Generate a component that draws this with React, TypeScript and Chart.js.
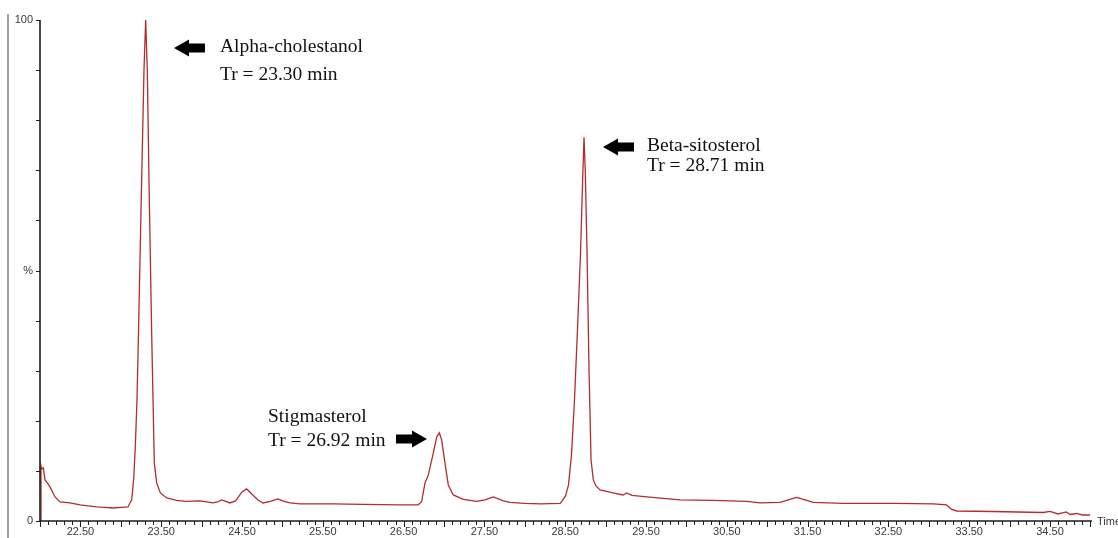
import React, { useEffect, useRef } from 'react';
import { Chart, registerables } from 'chart.js';

Chart.register(...registerables);

// Retention time (min) of each sampled point of the chromatogram trace
const timeMin = [
  22.005, 22.012, 22.02, 22.041, 22.062, 22.09, 22.124, 22.155, 22.186, 22.248,
  22.371, 22.495, 22.6, 22.702, 22.8, 22.903, 23.0, 23.089, 23.12, 23.135,
  23.16, 23.18, 23.2, 23.217, 23.25, 23.287, 23.308, 23.328, 23.353, 23.382,
  23.415, 23.444, 23.49, 23.568, 23.692, 23.8, 23.98, 24.141, 24.2, 24.249,
  24.3, 24.351, 24.42, 24.5, 24.558, 24.62, 24.698, 24.76, 24.85, 24.946,
  25.02, 25.094, 25.218, 25.626, 26.0, 26.455, 26.68,
  26.724, 26.765, 26.806, 26.868, 26.91, 26.942, 26.971, 27.012, 27.053, 27.115,
  27.239, 27.405, 27.507, 27.61, 27.734, 27.817, 28.0, 28.2, 28.436,
  28.454, 28.504, 28.541, 28.578, 28.615, 28.652, 28.689, 28.718, 28.733, 28.748,
  28.77, 28.795, 28.82, 28.848, 28.881, 28.931, 29.092, 29.215, 29.261, 29.327,
  29.509, 29.921, 30.329, 30.746, 30.911, 31.158, 31.282, 31.365, 31.447, 31.571,
  31.942, 32.561, 33.056, 33.221, 33.283, 33.345, 33.798, 34.1, 34.417, 34.5,
  34.6, 34.7, 34.75, 34.83, 34.9, 34.995,
];

// Relative intensity (%) at each retention time
const intensityPct = [
  0, 11.0, 10.4, 10.6, 8.2, 7.6, 6.8, 5.8, 4.8, 3.8,
  3.6, 3.2, 3.0, 2.8, 2.7, 2.6, 2.7, 2.8, 3.8, 4.2,
  8.5, 15, 24, 36, 62, 90, 100, 90, 64, 37.5,
  11.5, 7.6, 5.6, 4.6, 4.1, 3.9, 4.0, 3.6, 3.8, 4.2,
  3.9, 3.6, 4.0, 5.8, 6.4, 5.4, 4.2, 3.6, 3.9, 4.4,
  3.9, 3.6, 3.4, 3.4, 3.3, 3.2, 3.2,
  3.9, 7.6, 9.2, 13.6, 16.8, 17.6, 16.2, 11.6, 7.2, 5.2,
  4.3, 3.9, 4.2, 4.8, 4.0, 3.7, 3.5, 3.4, 3.5,
  3.8, 5.0, 7.2, 13.2, 24.2, 38.1, 53.1, 69.1, 76.6, 70.1,
  54.1, 30.1, 12.2, 8.2, 7.0, 6.2, 5.6, 5.2, 5.6, 5.1,
  4.8, 4.2, 4.1, 3.9, 3.6, 3.7, 4.3, 4.7, 4.3, 3.7,
  3.5, 3.5, 3.4, 3.2, 2.3, 2.0, 1.9, 1.8, 1.7, 1.9,
  1.4, 1.8, 1.3, 1.5, 1.2, 1.2,
];

const xTickLabels = ['22.50', '23.50', '24.50', '25.50', '26.50', '27.50', '28.50', '29.50', '30.50', '31.50', '32.50', '33.50', '34.50'];
const yTickValues = [0, 50, 100];
const yTickLabels = ['0', '%', '100'];
const xAxisTitle = 'Time';

const peakNames = ['Alpha-cholestanol', 'Stigmasterol', 'Beta-sitosterol'];
const peakRetention = ['Tr = 23.30 min', 'Tr = 26.92 min', 'Tr = 28.71 min'];

// Layout of the annotation callouts (pixels)
const calloutLayout = [
  { arrowDir: 'left', tipX: 174, tipY: 48, textX: 220, base1: 52, base2: 80 },
  { arrowDir: 'right', tipX: 427, tipY: 439, textX: 268, base1: 422, base2: 446 },
  { arrowDir: 'left', tipX: 603, tipY: 147, textX: 647, base1: 151, base2: 171 },
];

const X_MIN = 22.0;
const X_MAX = 35.02;

function drawArrow(ctx: CanvasRenderingContext2D, tipX: number, tipY: number, dir: string) {
  const s = dir === 'left' ? 1 : -1;
  const len = 31, headLen = 15, headHalf = 8.5, shaftHalf = 4.5;
  ctx.beginPath();
  ctx.moveTo(tipX, tipY);
  ctx.lineTo(tipX + s * headLen, tipY - headHalf);
  ctx.lineTo(tipX + s * headLen, tipY - shaftHalf);
  ctx.lineTo(tipX + s * len, tipY - shaftHalf);
  ctx.lineTo(tipX + s * len, tipY + shaftHalf);
  ctx.lineTo(tipX + s * headLen, tipY + shaftHalf);
  ctx.lineTo(tipX + s * headLen, tipY + headHalf);
  ctx.closePath();
  ctx.fill();
}

const decorPlugin = {
  id: 'chromDecor',
  afterDraw(chart: any) {
    const ctx: CanvasRenderingContext2D = chart.ctx;
    const xs = chart.scales.x;
    const ys = chart.scales.y;
    const area = chart.chartArea;
    ctx.save();

    // left frame line
    ctx.strokeStyle = '#a0a0a0';
    ctx.lineWidth = 2;
    ctx.beginPath();
    ctx.moveTo(8, 14);
    ctx.lineTo(8, 538);
    ctx.stroke();

    // axes
    ctx.strokeStyle = '#1e1e1e';
    ctx.lineWidth = 1.6;
    ctx.beginPath();
    ctx.moveTo(area.left, ys.getPixelForValue(100));
    ctx.lineTo(area.left, area.bottom);
    ctx.lineTo(area.right, area.bottom);
    ctx.stroke();

    // y ticks every 10 %
    ctx.lineWidth = 1;
    ctx.beginPath();
    for (let v = 0; v <= 100; v += 10) {
      const py = Math.round(ys.getPixelForValue(v)) + 0.5;
      ctx.moveTo(area.left - 4, py);
      ctx.lineTo(area.left, py);
    }
    ctx.stroke();

    // x ticks every 0.1 min, longer every 0.5
    ctx.beginPath();
    for (let i = 0; i <= 130; i++) {
      const t = X_MIN + i * 0.1;
      if (t > X_MAX + 1e-6) break;
      const px = Math.round(xs.getPixelForValue(t)) + 0.5;
      const major = i % 5 === 0;
      ctx.moveTo(px, area.bottom);
      ctx.lineTo(px, area.bottom + (major ? 6 : 4));
    }
    ctx.stroke();

    // tick labels
    ctx.fillStyle = '#3a3a3a';
    ctx.font = '11px "Liberation Sans", Arial, sans-serif';
    ctx.textAlign = 'center';
    ctx.textBaseline = 'middle';
    xTickLabels.forEach((lab) => {
      const px = xs.getPixelForValue(parseFloat(lab));
      ctx.fillText(lab, px, area.bottom + 11);
    });
    ctx.textAlign = 'right';
    yTickValues.forEach((v, i) => {
      ctx.fillText(yTickLabels[i], area.left - 7, ys.getPixelForValue(v));
    });
    ctx.textAlign = 'left';
    ctx.fillText(xAxisTitle, area.right + 5, area.bottom + 1);

    // callouts
    ctx.font = '19.5px "Liberation Serif", "Times New Roman", serif';
    ctx.textBaseline = 'alphabetic';
    calloutLayout.forEach((c, i) => {
      ctx.fillStyle = '#000';
      drawArrow(ctx, c.tipX, c.tipY, c.arrowDir);
      ctx.fillStyle = '#111';
      ctx.fillText(peakNames[i], c.textX, c.base1);
      ctx.fillText(peakRetention[i], c.textX, c.base2);
    });

    ctx.restore();
  },
};

export default function App() {
  const canvasRef = useRef<HTMLCanvasElement | null>(null);

  useEffect(() => {
    if (!canvasRef.current) return;
    const points = timeMin.map((t, i) => ({ x: t, y: intensityPct[i] }));
    const chart = new Chart(canvasRef.current, {
      type: 'line',
      data: {
        datasets: [
          {
            data: points,
            borderColor: '#b42c2c',
            borderWidth: 1.3,
            pointRadius: 0,
            tension: 0,
            fill: false,
          },
        ],
      },
      options: {
        responsive: false,
        animation: false,
        devicePixelRatio: 1,
        layout: { padding: { left: 40, top: 20, right: 26, bottom: 17 } },
        scales: {
          x: { type: 'linear', min: X_MIN, max: X_MAX, display: false },
          y: { min: 0, max: 100, display: false },
        },
        plugins: { legend: { display: false }, tooltip: { enabled: false } },
      },
      plugins: [decorPlugin],
    });
    return () => chart.destroy();
  }, []);

  return (
    <div style={{ position: 'absolute', left: 0, top: 0, width: 1118, height: 538, background: '#fff' }}>
      <canvas ref={canvasRef} width={1118} height={538} style={{ display: 'block' }} />
    </div>
  );
}
